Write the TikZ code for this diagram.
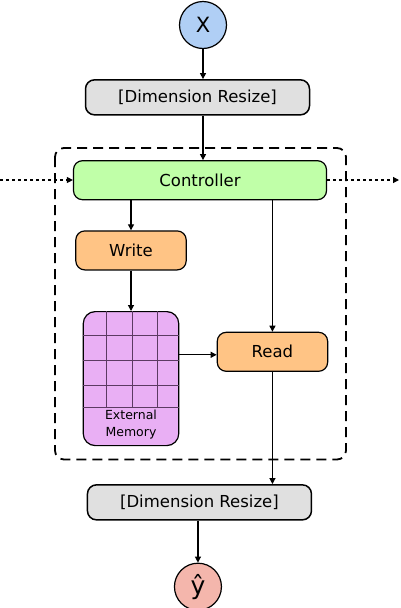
\documentclass[tikz,border=0pt]{standalone}
\usepackage{fontspec}
\setmainfont{DejaVu Sans}
\usetikzlibrary{positioning,arrows.meta}

\definecolor{inblue}{HTML}{B0CFF5}
\definecolor{outred}{HTML}{F4B6AC}
\definecolor{resizegray}{HTML}{E0E0E0}
\definecolor{ctrlgreen}{HTML}{C0FFA8}
\definecolor{rworange}{HTML}{FFC485}
\definecolor{memviolet}{HTML}{E9AFF4}
\definecolor{memline}{HTML}{5C3A62}

\begin{document}
\begin{tikzpicture}[
        x=1pt, y=1pt,
        io/.style={
            circle,
            draw,
            line width=1.2pt,
            minimum size=47pt,
            inner sep=0pt,
            font=\fontsize{21}{24}\selectfont
        },
        box/.style={
            rectangle,
            draw,
            rounded corners=9pt,
            line width=1.2pt,
            align=center,
            inner sep=0pt,
            font=\fontsize{16.5}{19}\selectfont
        },
        resize/.style={box, line width=1.5pt, fill=resizegray, minimum width=224pt, minimum height=35pt},
        ctrl/.style={box, fill=ctrlgreen, minimum width=253pt, minimum height=39pt},
        rw/.style={box, fill=rworange, minimum width=110.4pt, minimum height=39pt},
        mem/.style={
            rectangle,
            draw,
            rounded corners=12pt,
            line width=1.2pt,
            fill=memviolet,
            minimum width=95.5pt,
            minimum height=134pt,
            inner sep=0pt
        },
        memlabel/.style={align=center, inner sep=0pt, font=\fontsize{12.5}{17}\selectfont},
        gridline/.style={draw=memline, line width=0.8pt},
        frame/.style={draw, rounded corners=9pt, line width=1.8pt, dash pattern=on 10pt off 6pt},
        arrow/.style={
            ->,
            line width=1.2pt,
            >={Triangle[length=6pt,width=6pt]}
        },
        dotarrow/.style={arrow, dash pattern=on 3pt off 3pt}
    ]

    \useasboundingbox (0,0) rectangle (400,-608);

    % Input and first resize
    \node[io, fill=inblue] (x) at (203,-25) {X};
    \node[resize, below=30pt of x, xshift=-5.5pt] (resize1) {[Dimension Resize]};

    % Memory module frame
    \draw[frame] (55,-148) rectangle (346,-459.5);

    % Controller, write head and memory
    \node[ctrl, below=44.5pt of resize1, xshift=2.5pt] (controller) {Controller};
    \node[rw, below=30pt of controller, xshift=-69pt] (write) {Write};
    \node[mem, below=40.5pt of write] (memory) {};
    \node[rw, right=37.3pt of memory, yshift=26.8pt] (read) {Read};

    % Memory grid
    \foreach \dx in {24,49.4,74.4}
        \draw[gridline] ([xshift=\dx pt]memory.north west) -- ++(0,-96.3);
    \foreach \dy in {24.6,49.6,74.6,96.3}
        \draw[gridline] ([yshift=-\dy pt]memory.north west) -- ([yshift=-\dy pt]memory.north east);
    \node[memlabel] (memtext) at ([yshift=22pt]memory.south) {External\\Memory};

    % Output
    \node[resize, below=112.2pt of read, xshift=-73pt] (resize2) {[Dimension Resize]};
    \node[io, fill=outred, below=42pt of resize2, xshift=-1.5pt, font=\fontsize{25}{28}\selectfont] (yhat) {ŷ};

    % Connections
    \draw[arrow] (x) -- (x |- resize1.north);
    \draw[arrow] (resize1.south -| x) -- (controller.north -| x);
    \draw[arrow] (write.north |- controller.south) -- (write.north);
    \draw[arrow] (write) -- (memory);
    \draw[arrow] (read.north |- controller.south) -- (read.north);
    \draw[arrow] ([yshift=-3pt]memory.east |- read.west) -- ([yshift=-3pt]read.west);
    \draw[arrow] (read) -- (read |- resize2.north);
    \draw[arrow] (yhat |- resize2.south) -- (yhat);

    % Recurrent state in and out
    \coordinate (statein) at (0,-180);
    \coordinate (stateout) at (399,-180);
    \draw[dotarrow] (statein) -- (statein -| controller.west);
    \draw[dotarrow] (stateout -| controller.east) -- (stateout);

\end{tikzpicture}
\end{document}
